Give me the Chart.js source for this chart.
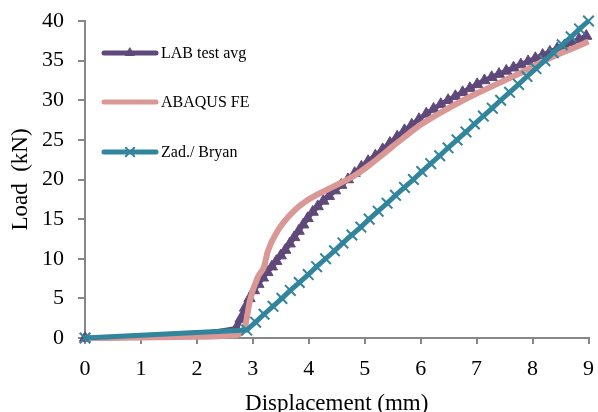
<!DOCTYPE html>
<html>
<head>
<meta charset="utf-8">
<script src="https://cdn.jsdelivr.net/npm/chart.js@4"></script>
<style>
  html, body { margin: 0; padding: 0; background: #fff; }
  #wrap { width: 598px; height: 412px; position: relative; }
</style>
</head>
<body>
<div id="wrap"><canvas id="loadChart"></canvas></div>
<script>
// LAB test avg
const labX = [0, 2.70, 2.78, 2.86, 2.94, 3.02, 3.10, 3.18, 3.26, 3.34, 3.42, 3.50, 3.58, 3.66, 3.74, 3.82, 3.90, 3.98,
    4.07, 4.16, 4.26, 4.36, 4.47, 4.58, 4.70, 4.82, 4.94, 5.06, 5.19, 5.32, 5.45, 5.58, 5.71, 5.84, 5.97,
    6.10, 6.23, 6.36, 6.49, 6.62, 6.75, 6.88, 7.01, 7.14, 7.27, 7.40, 7.53, 7.66, 7.79, 7.92,
    8.05, 8.18, 8.31, 8.44, 8.57, 8.70, 8.83, 8.96];
const labY = [0, 1.2, 2.4, 3.8, 5.0, 6.0, 6.8, 7.6, 8.3, 9.0, 9.7, 10.4, 11.1, 11.9, 12.7, 13.5, 14.3, 15.1,
    15.9, 16.6, 17.3, 17.9, 18.6, 19.3, 20.0, 20.8, 21.6, 22.3, 23.0, 23.8, 24.6, 25.4, 26.2, 26.9, 27.6,
    28.3, 28.9, 29.5, 30.0, 30.5, 31.0, 31.5, 32.0, 32.5, 32.9, 33.3, 33.7, 34.1, 34.5, 34.9,
    35.3, 35.7, 36.1, 36.5, 36.9, 37.3, 37.7, 38.1];

// ABAQUS FE
const feX = [0, 1.0, 2.0, 2.6, 2.78, 2.86, 2.95, 3.09, 3.20, 3.27, 3.45, 3.70, 3.98, 4.41, 4.82, 5.10, 5.40,
    5.70, 6.00, 6.30, 6.60, 6.90, 7.20, 7.50, 7.80, 8.10, 8.40, 8.70, 9.00];
const feY = [0, 0.05, 0.15, 0.3, 0.6, 1.4, 4.8, 7.7, 9.0, 11.0, 13.6, 15.8, 17.4, 19.0, 20.5, 21.9, 23.6,
    25.3, 26.9, 28.2, 29.4, 30.5, 31.5, 32.5, 33.5, 34.6, 35.6, 36.5, 37.4];

// Zad./ Bryan
const zadX = [0, 2.89, 3.05, 3.20, 3.36, 3.52, 3.67, 3.83, 3.99, 4.14, 4.30, 4.46, 4.61, 4.77, 4.93, 5.08,
    5.24, 5.40, 5.55, 5.71, 5.87, 6.02, 6.18, 6.34, 6.49, 6.65, 6.81, 6.96, 7.12, 7.28, 7.43,
    7.59, 7.75, 7.90, 8.06, 8.22, 8.37, 8.53, 8.69, 8.84, 9.00];
const zadY = [0, 1, 2, 3, 4, 5, 6, 7, 8, 9, 10, 11, 12, 13, 14, 15, 16, 17, 18, 19, 20,
    21, 22, 23, 24, 25, 26, 27, 28, 29, 30, 31, 32, 33, 34, 35, 36, 37, 38, 39, 40];

const seriesNames = ['LAB test avg', 'ABAQUS FE', 'Zad./ Bryan'];
const xTicks = [0, 1, 2, 3, 4, 5, 6, 7, 8, 9];
const yTicks = [0, 5, 10, 15, 20, 25, 30, 35, 40];

const toPoints = (xs, ys) => xs.map((x, i) => ({ x: x, y: ys[i] }));

const FONT = "'Liberation Serif', 'Times New Roman', serif";
const AXIS_GREY = '#878787';

// legend sits inside the plot, top left
const insideLegend = {
    id: 'insideLegend',
    afterDatasetsDraw(chart) {
        const ctx = chart.ctx;
        const rows = [53, 102, 152];
        chart.data.datasets.forEach((ds, i) => {
            const y = rows[i];
            ctx.save();
            ctx.strokeStyle = ds.borderColor;
            ctx.lineWidth = 5;
            ctx.lineCap = 'round';
            ctx.beginPath();
            ctx.moveTo(104, y);
            ctx.lineTo(156, y);
            ctx.stroke();
            if (ds.pointRadius > 0) {
                ctx.fillStyle = ds.pointBackgroundColor;
                ctx.strokeStyle = ds.pointBorderColor;
                ctx.lineWidth = ds.pointBorderWidth;
                Chart.helpers.drawPoint(ctx, {
                    pointStyle: ds.pointStyle,
                    radius: ds.pointRadius - 1.5,
                    borderWidth: ds.pointBorderWidth,
                    rotation: 0
                }, 130, y);
            }
            ctx.fillStyle = '#000';
            ctx.font = '16px ' + FONT;
            ctx.textBaseline = 'middle';
            ctx.fillText(seriesNames[i], 161, y + 1);
            ctx.restore();
        });
    }
};

new Chart(document.getElementById('loadChart'), {
    type: 'scatter',
    data: {
        datasets: [
            {
                label: seriesNames[0],
                data: toPoints(labX, labY),
                showLine: true,
                borderColor: '#5F497A',
                borderWidth: 5,
                pointStyle: 'triangle',
                pointRadius: 6.5,
                pointBackgroundColor: '#5F497A',
                pointBorderColor: '#5F497A',
                pointBorderWidth: 1,
                tension: 0.3,
                cubicInterpolationMode: 'monotone',
                clip: false,
                order: 3
            },
            {
                label: seriesNames[1],
                data: toPoints(feX, feY),
                showLine: true,
                borderColor: '#D99795',
                borderWidth: 6,
                pointRadius: 0,
                pointBackgroundColor: '#D99795',
                pointBorderColor: '#D99795',
                pointBorderWidth: 0,
                cubicInterpolationMode: 'monotone',
                clip: false,
                order: 2
            },
            {
                label: seriesNames[2],
                data: toPoints(zadX, zadY),
                showLine: true,
                borderColor: '#31859C',
                borderWidth: 5,
                pointStyle: 'crossRot',
                pointRadius: 7.5,
                pointBackgroundColor: '#31859C',
                pointBorderColor: '#31859C',
                pointBorderWidth: 2,
                tension: 0,
                clip: false,
                order: 1
            }
        ]
    },
    plugins: [insideLegend],
    options: {
        responsive: true,
        maintainAspectRatio: false,
        animation: false,
        events: [],
        layout: { padding: { top: 21, right: 9, left: 0, bottom: 0 } },
        plugins: {
            legend: { display: false },
            tooltip: { enabled: false }
        },
        scales: {
            x: {
                type: 'linear',
                min: 0,
                max: 9,
                afterFit: (scale) => {
                    scale.height = 74;
                    scale.paddingLeft = 0;
                    scale.paddingRight = 0;
                },
                afterBuildTicks: (scale) => { scale.ticks = xTicks.map(v => ({ value: v })); },
                ticks: { color: '#000', padding: 12, font: { family: FONT, size: 22 } },
                grid: { drawOnChartArea: false, drawTicks: true, tickLength: 6, color: AXIS_GREY, lineWidth: 2 },
                border: { color: AXIS_GREY, width: 2 },
                title: {
                    display: true,
                    text: 'Displacement (mm)',
                    color: '#000',
                    font: { family: FONT, size: 23, lineHeight: 0.8 },
                    padding: { top: 0, bottom: -1 }
                }
            },
            y: {
                type: 'linear',
                min: 0,
                max: 40,
                afterFit: (scale) => {
                    scale.width = 85;
                    scale.paddingTop = 0;
                    scale.paddingBottom = 0;
                },
                afterBuildTicks: (scale) => { scale.ticks = yTicks.map(v => ({ value: v })); },
                ticks: { color: '#000', padding: 14, font: { family: FONT, size: 22 } },
                grid: { drawOnChartArea: false, drawTicks: true, tickLength: 7, color: AXIS_GREY, lineWidth: 2 },
                border: { color: AXIS_GREY, width: 2 },
                title: {
                    display: true,
                    text: 'Load  (kN)',
                    color: '#000',
                    font: { family: FONT, size: 23 },
                    padding: { top: 7, bottom: 0 }
                }
            }
        }
    }
});
</script>
</body>
</html>
